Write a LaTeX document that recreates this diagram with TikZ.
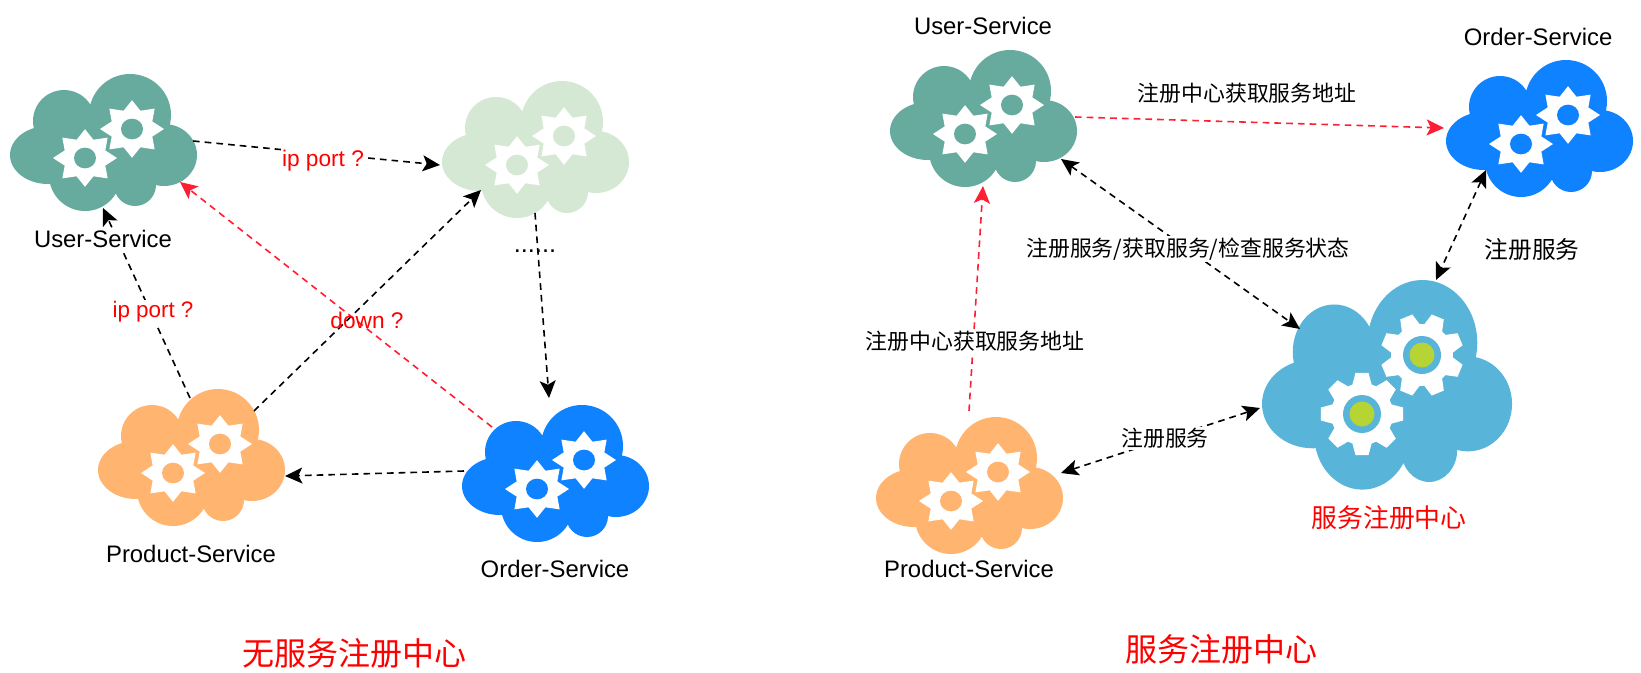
\documentclass[tikz,border=0pt]{standalone}
\usepackage{fontspec}
\setmainfont{Liberation Sans}
\newfontfamily\cjk{Noto Sans CJK SC}
\usetikzlibrary{arrows.meta}
\definecolor{teal}{HTML}{67AB9F}
\definecolor{lightg}{HTML}{D5E8D4}
\definecolor{orangec}{HTML}{FFB570}
\definecolor{bluec}{HTML}{0F82FF}
\definecolor{skyc}{HTML}{59B4D9}
\definecolor{limec}{HTML}{B6D433}
\definecolor{redc}{HTML}{FF1F35}
\tikzset{
  x=0.75pt,y=-0.75pt,
  link/.style={line width=1.2pt,dash pattern=on 5pt off 3.8pt,-{Stealth[length=13pt,width=12pt,inset=3pt]}},
  blink/.style={link,{Stealth[length=13pt,width=12pt,inset=3pt]}-{Stealth[length=13pt,width=12pt,inset=3pt]}},
  redlink/.style={link,draw=redc,-{Stealth[length=13pt,width=12pt,inset=3pt,fill=redc]}},
  lbl/.style={inner sep=0pt,font=\fontsize{17.9}{20}\selectfont},
  lblbg/.style={lbl,fill=white,inner sep=1pt},
  cn/.style={inner sep=0pt,font=\cjk\fontsize{16.4}{20}\selectfont},
  cnbg/.style={cn,fill=white,inner sep=1pt},
  redtxt/.style={text=red},
  anchorbox/.style={inner sep=0pt,minimum size=1pt}
}
\newcommand{\lobes}[1]{%
  \fill[#1] (38,81) ellipse [x radius=38,y radius=29]
    (54,47) circle [radius=31]
    (120,41) circle [radius=41]
    (154,81) ellipse [x radius=33,y radius=31]
    (75,101) circle [radius=36]
    (125,111) circle [radius=21];
  \fill[#1] (40,40) rectangle (150,100);}
\newcommand{\stargear}[3]{%
  \begin{scope}[shift={(#1,#2)},yscale=0.9]
    \fill[white] (0:32) \foreach \a in {0,45,...,315}{ -- ({\a+22.5}:22) -- ({\a+45}:32)} -- cycle;
    \fill[#3] (0,0) ellipse [x radius=11,y radius=11.5];
  \end{scope}}
\newcommand{\svccloud}[4]{%
  \begin{scope}[shift={(#2,#3)}]
    \lobes{#4}
    \stargear{75}{84}{#4}
    \stargear{122}{55}{#4}
    \node[anchorbox] (#1) at (93,68) {};
  \end{scope}}
\newcommand{\toothgear}[3]{%
  \begin{scope}[shift={(#1,#2)},rotate=#3]
    \fill[white] (-18:31) \foreach \a in {0,45,...,315}{ -- ({\a-18}:31) -- ({\a-9}:41.7) -- ({\a+9}:41.7) -- ({\a+18}:31)} -- cycle;
    \fill[skyc] (0,0) circle [radius=19];
    \fill[limec] (0,0) circle [radius=12.5];
  \end{scope}}
\begin{document}
\begin{tikzpicture}
\useasboundingbox (0,0) rectangle (1641,672);
\fill[white] (0,0) rectangle (1641,672);
% clouds
\svccloud{userL}{10}{74}{teal}
\svccloud{lightL}{442}{81}{lightg}
\svccloud{prodL}{98}{389}{orangec}
\svccloud{orderL}{462}{405}{bluec}
\svccloud{userR}{890}{50}{teal}
\svccloud{orderR}{1446}{60}{bluec}
\svccloud{prodR}{876}{417}{orangec}
\begin{scope}[shift={(1262,280)}]
  \begin{scope}[xscale=1.337,yscale=1.53]\lobes{skyc}\end{scope}
  \node[anchorbox] (hub) at (125,105) {};
\end{scope}
\toothgear{1362}{414}{0}
\toothgear{1422}{355}{22.5}
% connector ends
\coordinate (a1) at (193,141); \coordinate (a2) at (440,165);
\coordinate (b1) at (190,398); \coordinate (b2) at (103,208);
\coordinate (c1) at (254,411); \coordinate (c2) at (481,190);
\coordinate (d1) at (535,213); \coordinate (d2) at (549,398);
\coordinate (e1) at (464,471); \coordinate (e2) at (285,476);
\coordinate (f1) at (492,427); \coordinate (f2) at (180,182);
\coordinate (g1) at (1075,117); \coordinate (g2) at (1444,128);
\coordinate (h1) at (969,411); \coordinate (h2) at (983,186);
\coordinate (i1) at (1061,159); \coordinate (i2) at (1300,329);
\coordinate (j1) at (1486,170); \coordinate (j2) at (1436,280);
\coordinate (k1) at (1061,473); \coordinate (k2) at (1260,408);
% connectors
\draw[link] (a1) -- (a2);
\draw[link] (b1) -- (b2);
\draw[link] (c1) -- (c2);
\draw[link] (d1) -- (d2);
\draw[link] (e1) -- (e2);
\draw[redlink] (f1) -- (f2);
\draw[redlink] (g1) -- (g2);
\draw[redlink] (h1) -- (h2);
\draw[blink] (i1) -- (i2);
\draw[blink] (j1) -- (j2);
\draw[blink] (k1) -- (k2);
% labels
\node[lblbg] (t1) at (103,239) {User-Service};
\node[lblbg,redtxt,font=\fontsize{17}{20}\selectfont] (t2) at (323,161) {ip port ?};
\node[lblbg,redtxt,font=\fontsize{16.8}{20}\selectfont] (t3) at (153,312) {ip port ?};
\node[lbl,redtxt,font=\fontsize{17}{20}\selectfont] (t4) at (367,320) {down ?};
\node[lbl,font=\fontsize{19}{20}\selectfont] (t5) at (535,251) {......};
\node[lbl] (t6) at (191,554) {Product-Service};
\node[lbl] (t7) at (555,569) {Order-Service};
\node[lbl] (t8) at (983,26) {User-Service};
\node[lbl] (t9) at (1538,37) {Order-Service};
\node[lbl] (t10) at (969,569) {Product-Service};
\node[cn] (t11) at (1247,93) {注册中心获取服务地址};
\node[cnbg] (t12) at (975,341) {注册中心获取服务地址};
\node[cnbg] (t13) at (1188,249) {注册服务/获取服务/检查服务状态};
\node[cn,font=\cjk\fontsize{17.8}{20}\selectfont] (t14) at (1532,249) {注册服务};
\node[cnbg] (t15) at (1165,438) {注册服务};
\node[cn,redtxt,font=\cjk\fontsize{19.4}{22}\selectfont] (t16) at (1389,518) {服务注册中心};
\node[cn,redtxt,font=\cjk\fontsize{24}{28}\selectfont] (t17) at (354,653) {无服务注册中心};
\node[cn,redtxt,font=\cjk\fontsize{24}{28}\selectfont] (t18) at (1221,649) {服务注册中心};
\end{tikzpicture}
\end{document}
